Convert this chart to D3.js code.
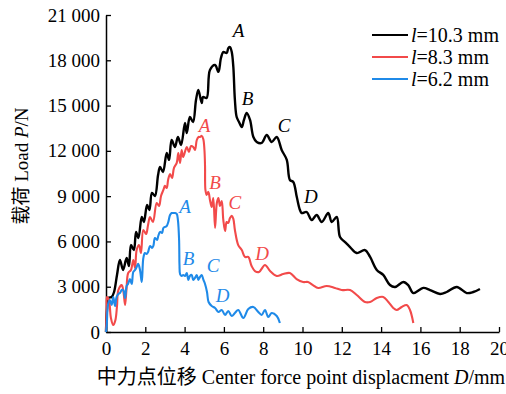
<!DOCTYPE html>
<html>
<head>
<meta charset="utf-8">
<script src="https://cdn.jsdelivr.net/npm/d3@7/dist/d3.min.js"></script>
<style>
  body { margin: 0; background: #fff; }
  text { font-family: "Liberation Serif", "Noto Sans CJK SC", serif; }
</style>
</head>
<body>
<div id="chart"></div>
<script>
// displacement D (mm), load P (N)
const curve103 = [
  [0,0],[0.05,1460],[0.12,2250],[0.29,2320],[0.41,2650],[0.56,3780],[0.71,4770],[0.87,4110],
  [1.05,4900],[1.17,4370],[1.27,5760],[1.42,5430],[1.53,6630],[1.65,6230],[1.82,7620],[1.93,7290],
  [2.09,8410],[2.21,8080],[2.34,9210],[2.49,9010],[2.65,10400],[2.75,10930],[2.90,10600],[3.09,11860],
  [3.21,11400],[3.34,12720],[3.51,12260],[3.66,12920],[3.82,12390],[4.02,13850],[4.11,13180],[4.27,14240],
  [4.43,13910],[4.58,15370],[4.70,16030],[4.87,15170],[4.94,15570],[5.12,15500],[5.29,17360],[5.55,17690],
  [5.72,17230],[5.85,18150],[5.97,18550],[6.14,18480],[6.23,18820],[6.31,18880],[6.40,18550],[6.48,17560],
  [6.56,15370],[6.65,14240],[6.77,13910],[6.91,13580],[7.02,14050],[7.16,14510],[7.33,14050],[7.50,12920],
  [7.67,12590],[7.92,12520],[8.18,13050],[8.43,12590],[8.69,12920],[8.94,12060],[9.20,11400],[9.36,10070],
  [9.53,9940],[9.71,8940],[9.87,8080],[9.96,7880],[10.21,7950],[10.47,7420],[10.72,7750],[10.98,7290],
  [11.31,7880],[11.49,7290],[11.74,7620],[11.91,6290],[12.16,5960],[12.42,5630],[12.76,5230],[13.18,5430],
  [13.44,4970],[13.78,4110],[14.11,3780],[14.45,3110],[14.71,2980],[15.13,3310],[15.38,3110],[15.64,2580],
  [16.15,2920],[16.49,2780],[17.00,2520],[17.34,2650],[17.85,2980],[18.36,2580],[18.69,2650],[19.03,2850]
];
const curve83 = [
  [0,0],[0.03,1460],[0.05,2320],[0.15,2120],[0.25,930],[0.37,460],[0.48,800],[0.56,1720],
  [0.63,2780],[0.80,3110],[0.89,2650],[0.97,1790],[1.04,2780],[1.13,3910],[1.27,4110],[1.39,4770],
  [1.48,4240],[1.56,5430],[1.68,5760],[1.78,5230],[1.90,6760],[2.04,6490],[2.14,7090],[2.24,7620],
  [2.39,7290],[2.58,8550],[2.70,8350],[2.80,9010],[2.92,9410],[3.00,9680],[3.09,9540],[3.16,10070],
  [3.26,10470],[3.36,10200],[3.46,10870],[3.60,11200],[3.68,11860],[3.77,11200],[3.85,12060],[3.93,11590],
  [4.11,12260],[4.22,11930],[4.33,12320],[4.44,12260],[4.53,12060],[4.62,12720],[4.71,12920],[4.78,12920],
  [4.87,12990],[4.95,12790],[5.01,12060],[5.04,11000],[5.06,9410],[5.12,9080],[5.21,9280],[5.29,8750],
  [5.38,8280],[5.46,8880],[5.55,6890],[5.64,8550],[5.72,8880],[5.80,8350],[5.89,8680],[5.97,7420],
  [6.06,6690],[6.14,7290],[6.22,7220],[6.31,7550],[6.40,7690],[6.48,7490],[6.56,6760],[6.73,5760],
  [6.91,5430],[7.07,4970],[7.24,4970],[7.41,4370],[7.58,4040],[7.79,3980],[8.09,4440],[8.35,4040],
  [8.69,3710],[9.02,3840],[9.36,3910],[9.70,3510],[10.03,3310],[10.28,3310],[10.53,3110],[10.80,2920],
  [11.23,3050],[11.65,2920],[11.99,2780],[12.42,2780],[12.76,2450],[13.18,1990],[13.44,1990],[13.78,2250],
  [14.11,2320],[14.37,1990],[14.62,1590],[14.79,1460],[15.05,1660],[15.30,1790],[15.47,1460],[15.64,600]
];
const curve62 = [
  [0,0],[0.04,460],[0.10,1790],[0.20,2120],[0.29,1790],[0.37,2320],[0.46,1720],[0.54,2320],
  [0.63,2520],[0.71,2580],[0.80,2780],[0.88,2780],[0.97,2250],[1.05,3050],[1.12,3180],[1.22,3510],
  [1.31,3180],[1.39,3980],[1.48,4110],[1.56,4310],[1.64,4510],[1.73,4110],[1.82,3310],[1.90,4900],
  [1.98,5230],[2.07,5170],[2.14,5300],[2.24,5700],[2.34,5570],[2.41,5700],[2.49,6230],[2.60,6100],
  [2.66,6360],[2.75,6630],[2.85,6560],[2.92,6890],[3.00,6960],[3.09,7020],[3.17,7290],[3.26,7750],
  [3.34,7880],[3.42,7880],[3.51,7880],[3.60,7820],[3.66,7420],[3.72,6100],[3.74,4440],[3.77,3840],
  [3.85,3710],[3.93,3780],[4.02,3710],[4.11,3910],[4.19,3450],[4.27,3710],[4.36,3780],[4.44,3450],
  [4.53,3580],[4.62,3780],[4.70,3450],[4.78,3640],[4.87,3780],[4.96,3450],[5.04,3180],[5.14,2650],
  [5.22,1990],[5.38,1720],[5.55,1590],[5.72,1330],[5.89,1460],[6.06,1130],[6.22,1390],[6.40,1060],
  [6.56,1260],[6.73,1460],[6.99,930],[7.24,1520],[7.50,1660],[7.75,1330],[7.92,1130],[8.09,1460],
  [8.26,990],[8.43,1260],[8.69,1060],[8.85,600]
];

const seriesNames = ['10.3 mm', '8.3 mm', '6.2 mm'];
const seriesColors = ['#000000', '#f24a4a', '#1f8ae8'];
const xTicks = [0, 2, 4, 6, 8, 10, 12, 14, 16, 18, 20];
const yTicks = [0, 3000, 6000, 9000, 12000, 15000, 18000, 21000];

// stage labels A-D, placed at [D, P]
const stageNames = ['A', 'B', 'C', 'D'];
const stages103 = [[6.74, 20010], [7.20, 15500], [9.06, 13710], [10.43, 9010]];
const stages83 = [[5.01, 13710], [5.55, 9940], [6.56, 8610], [7.94, 5230]];
const stages62 = [[4.02, 8350], [4.20, 4900], [5.45, 4440], [5.93, 2450]];

const curves = [curve103, curve83, curve62];
const stages = [stages103, stages83, stages62];

const width = 506, height = 394;
const margin = { top: 15, right: 7, bottom: 62, left: 106 };

const svg = d3.select('#chart').append('svg')
  .attr('width', width)
  .attr('height', height);

const x = d3.scaleLinear().domain([0, 20]).range([margin.left, width - margin.right]);
const y = d3.scaleLinear().domain([0, 21000]).range([height - margin.bottom, margin.top]);

const fmt = d => d3.format(',')(d).replace(',', ' ');

const xAxis = svg.append('g')
  .attr('transform', 'translate(0,' + (height - margin.bottom) + ')')
  .call(d3.axisBottom(x).tickValues(xTicks).tickSizeInner(-5).tickSizeOuter(0).tickPadding(6).tickFormat(d3.format('d')));

const yAxis = svg.append('g')
  .attr('transform', 'translate(' + margin.left + ',0)')
  .call(d3.axisLeft(y).tickValues(yTicks).tickSizeInner(-5).tickSizeOuter(0).tickPadding(6).tickFormat(fmt));

[xAxis, yAxis].forEach(a => {
  a.select('.domain').attr('stroke', '#000').attr('stroke-width', 1.5);
  a.selectAll('.tick line').attr('stroke', '#000').attr('stroke-width', 1.3);
  a.selectAll('.tick text')
    .attr('fill', '#000')
    .attr('font-size', '19px')
    .style('font-family', '"Liberation Serif", serif');
});
xAxis.selectAll('.tick text').attr('dy', '0.9em');

const line = d3.line()
  .x(d => x(d[0]))
  .y(d => y(d[1]))
  .curve(d3.curveCatmullRom.alpha(0.5));

curves.forEach((c, i) => {
  svg.append('path')
    .datum(c)
    .attr('d', line)
    .attr('fill', 'none')
    .attr('stroke', seriesColors[i])
    .attr('stroke-width', i == 0 ? 2.4 : 2.1)
    .attr('stroke-linejoin', 'round');
});

stages.forEach((s, i) => {
  svg.selectAll('.stage' + i)
    .data(s)
    .enter()
    .append('text')
    .attr('class', 'stage' + i)
    .attr('x', d => x(d[0]))
    .attr('y', d => y(d[1]))
    .attr('dy', '0.35em')
    .attr('text-anchor', 'middle')
    .attr('font-size', '19px')
    .attr('font-style', 'italic')
    .attr('fill', seriesColors[i])
    .text((d, j) => stageNames[j]);
});

// legend
const legend = svg.append('g').attr('transform', 'translate(372,35)');
seriesNames.forEach((n, i) => {
  const row = legend.append('g').attr('transform', 'translate(0,' + (i * 22) + ')');
  row.append('line')
    .attr('x1', 0).attr('x2', 36)
    .attr('stroke', seriesColors[i])
    .attr('stroke-width', 2);
  const t = row.append('text')
    .attr('x', 39)
    .attr('dy', '0.35em')
    .attr('font-size', '20px')
    .attr('fill', '#000');
  t.append('tspan').attr('font-style', 'italic').text('l');
  t.append('tspan').text('=' + n);
});

// axis titles
const xt = svg.append('text')
  .attr('x', 301)
  .attr('y', 384)
  .attr('text-anchor', 'middle')
  .attr('font-size', '20px')
  .attr('fill', '#000');
xt.append('tspan').text('中力点位移 Center force point displacment ');
xt.append('tspan').attr('font-style', 'italic').text('D');
xt.append('tspan').text('/mm');

const yt = svg.append('text')
  .attr('transform', 'translate(28,166) rotate(-90)')
  .attr('text-anchor', 'middle')
  .attr('font-size', '19px')
  .attr('fill', '#000');
yt.append('tspan').text('载荷 Load ');
yt.append('tspan').attr('font-style', 'italic').text('P');
yt.append('tspan').text('/N');
</script>
</body>
</html>
